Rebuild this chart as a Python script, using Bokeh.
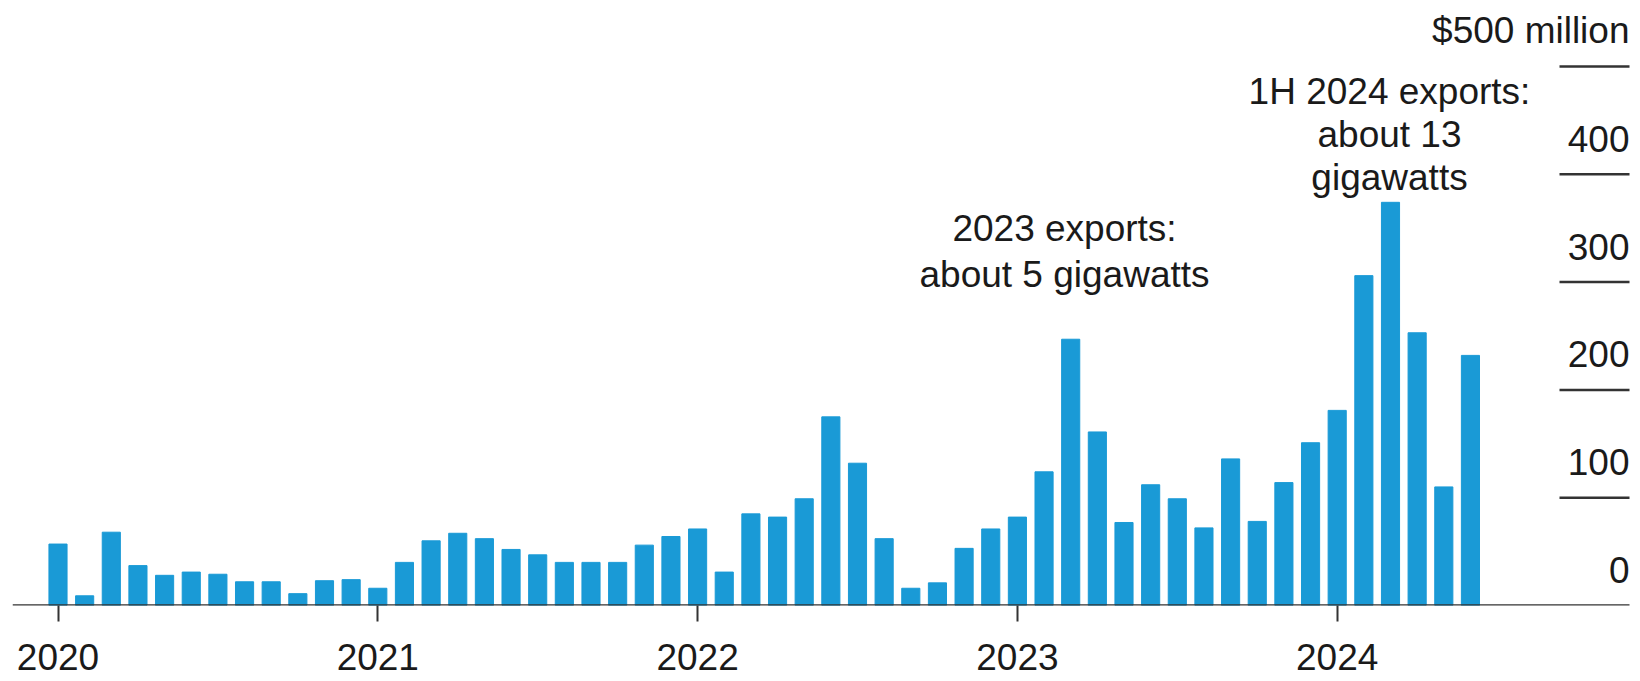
from bokeh.plotting import figure
from bokeh.models import Range1d, FixedTicker
from bokeh.core.properties import value
from bokeh.embed import file_html
from bokeh.resources import INLINE

# ---- data (monthly exports, $ million) ----
years = ["2020", "2021", "2022", "2023", "2024"]
values_2020 = [57, 9, 68, 37, 28, 31, 29, 22, 22, 11, 23, 24]
values_2021 = [16, 40, 60, 67, 62, 52, 47, 40, 40, 40, 56, 64]
values_2022 = [71, 31, 85, 82, 99, 175, 132, 62, 16, 21, 53, 71]
values_2023 = [82, 124, 247, 161, 77, 112, 99, 72, 136, 78, 114, 151]
values_2024 = [181, 306, 374, 253, 110, 232]
y_ticks = [0, 100, 200, 300, 400, 500]
y_tick_labels = ["0", "100", "200", "300", "400", "$500 million"]
note_2023 = ["2023 exports:", "about 5 gigawatts"]
note_2024 = ["1H 2024 exports:", "about 13", "gigawatts"]

values = values_2020 + values_2021 + values_2022 + values_2023 + values_2024
month_idx = list(range(len(values)))
year_starts = [12 * i for i in range(len(years))]

# ---- layout constants (pixels) ----
W, H = 1640, 681
left_px, rule_end_px, bottom_px = 12, 1629, 76
x0_px, px_per_month = 57.5, 26.65
px_per_unit = 1.078
FONT = "Liberation Sans"
FS = "37px"
TXT = "#1a1a1a"
RULE = "#333333"
BAR = "#1a9ad6"

def mx(px):
    return (px - x0_px) / px_per_month

def vy(py):
    return (H - bottom_px - py) / px_per_unit

p = figure(width=W, height=H, output_backend="svg", toolbar_location=None,
           x_range=Range1d(mx(left_px), mx(W)),
           y_range=Range1d(0, (H - bottom_px) / px_per_unit),
           y_axis_type=None, min_border_left=left_px, min_border_right=0,
           min_border_top=0, min_border_bottom=bottom_px)
p.outline_line_color = None
p.xgrid.visible = False
p.ygrid.visible = False
p.background_fill_color = "white"
p.border_fill_color = "white"

p.vbar(x=month_idx, top=values, bottom=0, width=0.68, color=BAR)

# baseline (zero rule) ending at the scale's right edge
p.segment(x0=[mx(left_px)], y0=[y_ticks[0]], x1=[mx(rule_end_px)], y1=[y_ticks[0]],
          line_color=RULE, line_width=2.5)

# x axis (ticks + year labels only; line drawn above)
ax = p.xaxis[0]
ax.ticker = FixedTicker(ticks=year_starts)
ax.major_label_overrides = {t: y for t, y in zip(year_starts, years)}
ax.axis_line_color = None
ax.major_tick_line_color = RULE
ax.major_tick_line_width = 2
ax.major_tick_in = 0
ax.major_tick_out = 16
ax.minor_tick_in = 0
ax.minor_tick_out = 0
ax.major_label_standoff = 22
ax.major_label_text_font = FONT
ax.major_label_text_font_size = FS
ax.major_label_text_color = TXT

# right-hand value scale: short rules with labels above
gx0, gx1 = mx(1559), mx(rule_end_px)
grid_vals = y_ticks[1:]
p.segment(x0=[gx0] * len(grid_vals), y0=grid_vals, x1=[gx1] * len(grid_vals), y1=grid_vals,
          line_color=RULE, line_width=2.5)
label_off = 33
p.text(x=[mx(rule_end_px)] * len(y_ticks), y=[t + label_off for t in y_ticks], text=y_tick_labels,
       text_align="right", text_baseline="middle", text_font=value(FONT),
       text_font_size=FS, text_color=TXT)

# annotations
n1_x, n1_y = mx(1064), vy(228)
p.text(x=[n1_x] * len(note_2023), y=[n1_y - i * 43 for i in range(len(note_2023))],
       text=note_2023, text_align="center", text_baseline="middle",
       text_font=value(FONT), text_font_size=FS, text_color=TXT)
n2_x, n2_y = mx(1389), vy(91)
p.text(x=[n2_x] * len(note_2024), y=[n2_y - i * 40 for i in range(len(note_2024))],
       text=note_2024, text_align="center", text_baseline="middle",
       text_font=value(FONT), text_font_size=FS, text_color=TXT)

open("out.html", "w").write(file_html(p, INLINE))
